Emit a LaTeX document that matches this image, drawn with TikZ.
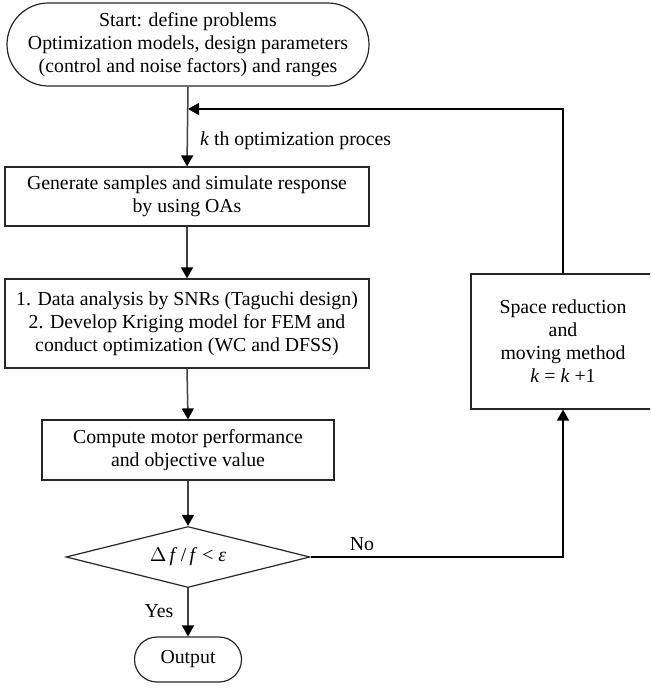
\documentclass[tikz,border=0pt]{standalone}
\usepackage{fontspec}
\setmainfont{Liberation Serif}
\usetikzlibrary{shapes.misc,shapes.geometric,arrows.meta}
\begin{document}
\begin{tikzpicture}[x=0.5pt,y=-0.5pt,
  every node/.style={font=\fontsize{9.9}{11.5}\selectfont},
  box/.style={draw=black!85, rectangle, align=center, inner sep=0pt, line width=0.6pt},
  term/.style={draw=black!85, rounded rectangle, align=center, inner sep=0pt, line width=0.6pt},
  decision/.style={draw=black!85, diamond, aspect=4, align=center, inner sep=0pt, line width=0.6pt},
  flow/.style={line width=0.75pt, draw=black!75, -{Triangle[length=5.5pt,width=6pt,color=black]}},
  loopline/.style={line width=0.7pt, draw=black, -{Triangle[length=5.5pt,width=6pt,color=black]}},
  ]
  \clip (0,0) rectangle (650,688);

  % main column
  \node[term, minimum width=181pt, minimum height=41.5pt] (start) at (188,44.5)
    {Start: define problems\\Optimization models, design parameters\\(control and noise factors) and ranges};
  \node[box, minimum width=182pt, minimum height=29.5pt] (gen) at (187,196.5)
    {Generate samples and simulate response\\by using OAs};
  \node[box, minimum width=182pt, minimum height=44.5pt] (anal) at (187,323.5)
    {1. Data analysis by SNRs (Taguchi design)\\2. Develop Kriging model for FEM and\\conduct optimization (WC and DFSS)};
  \node[box, minimum width=146pt, minimum height=30pt] (comp) at (188,450)
    {Compute motor performance\\and objective value};
  \node[decision, minimum width=122pt, minimum height=30.5pt] (dec) at (188,557)
    {$\Delta$\,\textit{f}\,/\,\textit{f} < \textit{ε}};
  \node[term, minimum width=53.5pt, minimum height=22.5pt] (out) at (188,659.5) {Output};

  % loop-back block
  \node[box, minimum width=92pt, minimum height=67.5pt] (space) at (563,341.5)
    {Space reduction\\and\\moving method\\\textit{k} = \textit{k} +1};

  \coordinate (join) at (188,109);
  \coordinate (turn) at (563,557);

  % connectors
  \draw[flow] (start.south) -- (gen.north);
  \draw[flow] (gen.south) -- (anal.north);
  \draw[flow] (anal.south) -- (comp.north);
  \draw[flow] (comp.south) -- (dec.north);
  \draw[flow] (dec.south) -- (out.north);
  \draw[loopline] (dec.east) -- (turn) -- (space.south);
  \draw[loopline] (space.north) |- (join);

  % labels
  \node[anchor=west] (klabel) at (193,141) {\textit{k} th optimization proces};
  \node (yes) at (159,611) {Yes};
  \node (no) at (362,544) {No};
\end{tikzpicture}
\end{document}
